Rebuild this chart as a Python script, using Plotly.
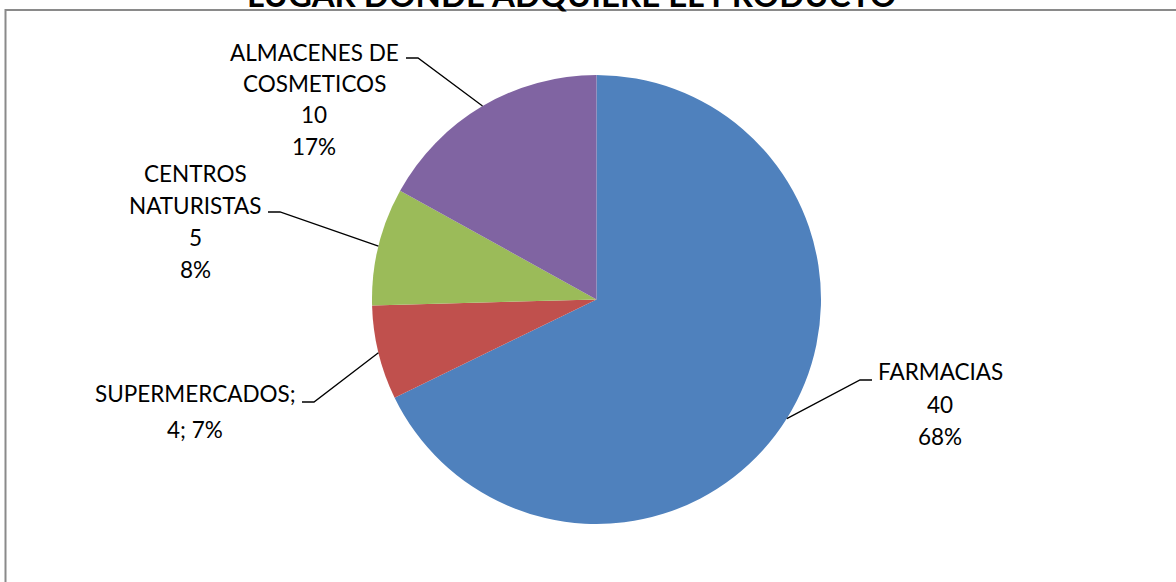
import math
import plotly.graph_objects as go

# Data
labels = ["FARMACIAS", "SUPERMERCADOS", "CENTROS NATURISTAS", "ALMACENES DE COSMETICOS"]
values = [40, 4, 5, 10]
colors = ["#4F81BD", "#C0504D", "#9BBB59", "#8064A2"]
title_text = "LUGAR DONDE ADQUIERE EL PRODUCTO"

W, H = 1176, 582
CX, CY, R = 596.5, 299.5, 224.5  # pie centre / radius in pixels


def px(x):
    return x / W


def py(y):
    return 1 - y / H


total = sum(values)
pcts = [round(100 * v / total) for v in values]

fig = go.Figure(go.Pie(
    labels=labels,
    values=values,
    sort=False,
    direction="clockwise",
    rotation=0,
    textinfo="none",
    hoverinfo="label+value+percent",
    marker=dict(colors=colors, line=dict(width=0)),
    domain=dict(x=[px(CX - R), px(CX + R)], y=[py(CY + R), py(CY - R)]),
    showlegend=False,
))

FONT = "Lato"
FS = 22.5

# label text lines, centre x, line y positions, and leader elbow (stub start, stub end)
label_lines = [
    [labels[0], str(values[0]), f"{pcts[0]}%"],
    [labels[1] + ";", f"{values[1]}; {pcts[1]}%"],
    ["CENTROS", "NATURISTAS", str(values[2]), f"{pcts[2]}%"],
    ["ALMACENES DE", "COSMETICOS", str(values[3]), f"{pcts[3]}%"],
]
label_cx = [940, 195, 195, 314]
label_y0 = [372, 393, 173, 52]
label_dy = [32, 36, 32, 31.5]
stubs = [((872, 380), (860, 380)),
         ((302, 402), (314, 402)),
         ((268, 212), (280, 212)),
         ((406, 58), (418, 58))]

annotations = []
shapes = []

cum = 0
for i, v in enumerate(values):
    mid = (cum + v / 2) / total * 2 * math.pi
    cum += v
    ex = CX + R * math.sin(mid)
    ey = CY - R * math.cos(mid)
    (sx0, sy0), (sx1, sy1) = stubs[i]
    path = f"M {px(sx0)} {py(sy0)} L {px(sx1)} {py(sy1)} L {px(ex)} {py(ey)}"
    shapes.append(dict(type="path", xref="paper", yref="paper", path=path,
                       line=dict(color="black", width=1.3)))
    for k, line in enumerate(label_lines[i]):
        annotations.append(dict(
            text=line, xref="paper", yref="paper",
            x=px(label_cx[i]), y=py(label_y0[i] + k * label_dy[i]),
            xanchor="center", yanchor="middle", showarrow=False,
            font=dict(family=FONT, size=FS, color="black"),
        ))

# chart title (sits above the chart frame, partly off the page)
annotations.append(dict(
    text=f"<b>{title_text}</b>", xref="paper", yref="paper",
    x=px(571), y=py(-6), xanchor="center", yanchor="middle",
    showarrow=False, font=dict(family=FONT, size=33, color="black"),
))

# chart frame
shapes.append(dict(type="rect", xref="paper", yref="paper",
                   x0=px(5.5), x1=px(W + 10), y0=py(H + 10), y1=py(10),
                   line=dict(color="#8A8A8A", width=2), fillcolor="rgba(0,0,0,0)",
                   layer="below"))

fig.update_layout(
    width=W, height=H,
    margin=dict(l=0, r=0, t=0, b=0),
    paper_bgcolor="white", plot_bgcolor="white",
    annotations=annotations, shapes=shapes,
)

fig.write_html("out.html")
